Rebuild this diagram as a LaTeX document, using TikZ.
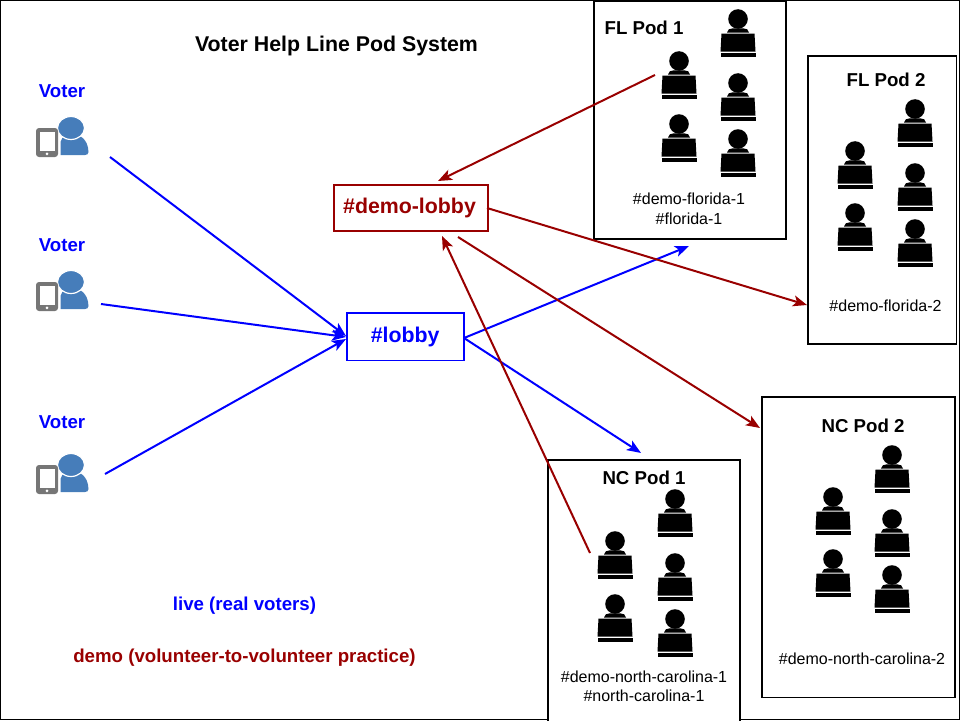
\documentclass[tikz,border=0pt]{standalone}
\usepackage{fontspec}
\setmainfont{Liberation Sans}
\usetikzlibrary{arrows.meta}
\definecolor{liveblue}{RGB}{0,0,255}
\definecolor{demored}{RGB}{153,0,0}
\definecolor{phonegray}{RGB}{118,118,118}
\definecolor{personblue}{RGB}{70,125,186}
\tikzset{
  x=1pt,y=-1pt,
  podbox/.style={draw=black,line width=1.8pt,fill=white,anchor=north west,inner sep=0pt},
  lbl/.style={inner sep=0pt,align=center,font=\fontsize{16}{19.5}\selectfont},
  head/.style={inner sep=0pt,font=\bfseries\fontsize{18.67}{20}\selectfont},
  chan/.style={draw,line width=1.8pt,fill=white,font=\bfseries\fontsize{21.33}{24}\selectfont,inner sep=0pt,anchor=north west},
  livearrow/.style={draw=liveblue,line width=2pt,-{Stealth[length=14pt,width=11pt,inset=3.5pt]}},
  demoarrow/.style={draw=demored,line width=2pt,-{Stealth[length=14pt,width=11pt,inset=3.5pt]}},
  agent/.pic={
    \fill[black] (0,0) circle[radius=9.8];
    \fill[black] (-11,13.5) .. controls (-11,10.5) and (-8,9.3) .. (-5,9.3) -- (5,9.3) .. controls (8,9.3) and (11,10.5) .. (11,13.5) -- cycle;
    \fill[black] (-16.5,14.5) -- (16.5,14.5) -- (17.5,32.5) -- (-17.5,32.5) -- cycle;
    \fill[black] (-17.5,33.8) rectangle (17.5,37.5);
  },
  voter/.pic={
    \fill[personblue] (-10.5,17) -- (-10.5,4) .. controls (-9,-2) and (-4,-4) .. (0,-4) .. controls (10,-4) and (17,2) .. (17.5,14) .. controls (17.5,16) and (16,17) .. (14,17) -- cycle;
    \fill[personblue,draw=white,line width=1.2pt] (0,-10) ellipse[x radius=13.5,y radius=11.5];
    \fill[phonegray,rounded corners=3pt] (-35,-10) rectangle (-13,19);
    \fill[white] (-31.5,-6.5) rectangle (-16.5,12.5);
    \fill[white] (-24,15.8) circle[radius=1.5];
  }
}
\begin{document}
\begin{tikzpicture}
\useasboundingbox (0,0) rectangle (960,720);
\draw[black,line width=1pt] (0.5,0.5) rectangle (959.5,719.5);

% Pods
\node[podbox,minimum width=192.2,minimum height=237.7] (fl1) at (592.7,0) {};
\node[podbox,minimum width=148.2,minimum height=288.2] (fl2) at (807.3,55) {};
\node[podbox,minimum width=192.9,minimum height=300.8] (nc2) at (761.3,395.7) {};
\node[podbox,minimum width=192.5,minimum height=262] (nc1) at (546.7,459) {};

% Agents
\foreach \p/\q in {679/61,738/19,738/83,679/124,738/139,
                   855/151,915/109,915/173,855/213,915/229,
                   615/541,675/499,675/563,615/604,675/619,
                   833/497,892/455,892/519,833/559,892/575}
  \pic at (\p,\q) {agent};

% Title and labels
\node[inner sep=0pt,font=\bfseries\fontsize{21.33}{24}\selectfont] (title) at (336.5,45.5) {Voter Help Line Pod System};
\node[head] (fl1h) at (644,28) {FL Pod 1};
\node[head] (fl2h) at (886,80) {FL Pod 2};
\node[head] (nc1h) at (644,478) {NC Pod 1};
\node[head] (nc2h) at (863,426) {NC Pod 2};
\node[lbl] (fl1t) at (689,209) {\#demo-florida-1\\\#florida-1};
\node[lbl] (fl2t) at (885.5,306) {\#demo-florida-2};
\node[lbl] (nc1t) at (644,686.5) {\#demo-north-carolina-1\\[-1pt]\#north-carolina-1};
\node[lbl] (nc2t) at (862,659) {\#demo-north-carolina-2};
\node[head,text=liveblue] (lv) at (244.5,606) {live (real voters)};
\node[head,text=demored] (dm) at (244.5,658) {demo (volunteer-to-volunteer practice)};

% Voters
\node[head,text=liveblue] (v1) at (62,91) {Voter};
\node[head,text=liveblue] (v2) at (62,245) {Voter};
\node[head,text=liveblue] (v3) at (62,422) {Voter};
\pic at (71,138) {voter};
\pic at (71,292) {voter};
\pic at (71,475) {voter};

% Channels
\node[chan,draw=demored,text=demored,minimum width=154.2,minimum height=46.5] (demo) at (332.7,183.7) {\raisebox{-1pt}{\#demo-lobby}\hspace*{2.4pt}};
\node[chan,draw=liveblue,text=liveblue,minimum width=117.2,minimum height=47.8] (lobby) at (345.7,311.7) {\raisebox{-1.5pt}{\#lobby}};

% Free ends
\coordinate (s1) at (110,157);
\coordinate (s2) at (101,304);
\coordinate (s3) at (105,474);
\coordinate (e1) at (346,336);
\coordinate (e2) at (346,337);
\coordinate (e3) at (346,339);
\coordinate (lo) at (464,338);
\coordinate (t1) at (689,246);
\coordinate (t2) at (641,453);
\coordinate (a1) at (655,75);
\coordinate (b1) at (438,181);
\coordinate (a2) at (487,208);
\coordinate (b2) at (807,305);
\coordinate (a3) at (458,237);
\coordinate (b3) at (760,428);
\coordinate (a4) at (590,553);
\coordinate (b4) at (442,236);

\draw[livearrow] (s1) -- (e1);
\draw[livearrow] (s2) -- (e2);
\draw[livearrow] (s3) -- (e3);
\draw[livearrow] (lo) -- (t1);
\draw[livearrow] (lo) -- (t2);
\draw[demoarrow] (a1) -- (b1);
\draw[demoarrow] (a2) -- (b2);
\draw[demoarrow] (a3) -- (b3);
\draw[demoarrow] (a4) -- (b4);
\end{tikzpicture}
\end{document}
